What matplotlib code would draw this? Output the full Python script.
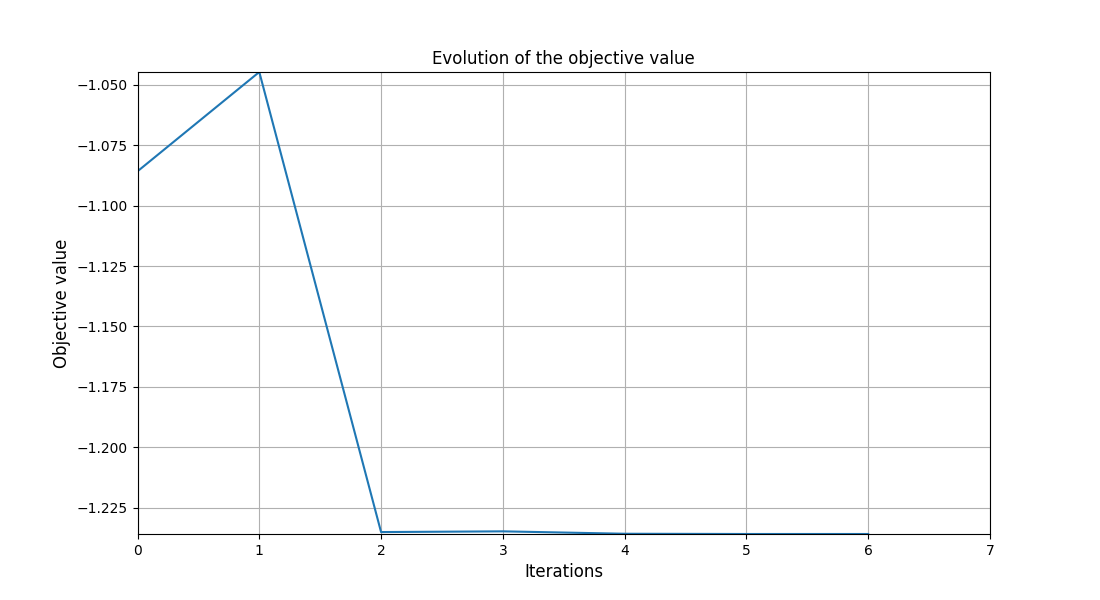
import matplotlib
matplotlib.use("Agg")
import matplotlib.pyplot as plt

iterations = [0, 1, 2, 3, 4, 5, 6]
objective = [-1.0858, -1.0447, -1.2351, -1.2348, -1.2358, -1.2359, -1.2359]

fig, ax = plt.subplots(figsize=(11, 6), dpi=100)
ax.plot(iterations, objective)
ax.set_title("Evolution of the objective value")
ax.set_xlabel("Iterations", fontsize=12)
ax.set_ylabel("Objective value", fontsize=12)
ax.set_xlim(0, 7)
ax.set_ylim(min(objective), max(objective))
ax.grid(True)
fig.savefig("out.png", dpi=100)
